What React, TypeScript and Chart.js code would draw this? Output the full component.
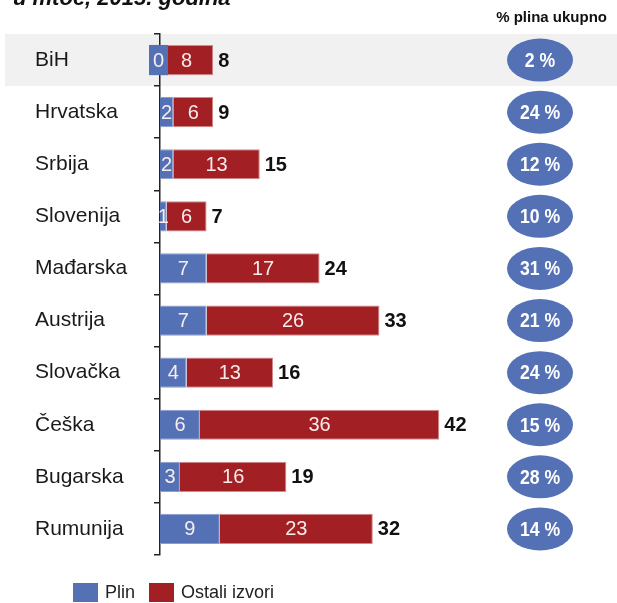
import React, { useEffect, useRef } from 'react';
import { Chart, registerables } from 'chart.js';

Chart.register(...registerables);

const categories = ['BiH', 'Hrvatska', 'Srbija', 'Slovenija', 'Mađarska', 'Austrija', 'Slovačka', 'Češka', 'Bugarska', 'Rumunija'];
const plin = [0, 2, 2, 1, 7, 7, 4, 6, 3, 9];
const ostali = [8, 6, 13, 6, 17, 26, 13, 36, 16, 23];
const totals = [8, 9, 15, 7, 24, 33, 16, 42, 19, 32];
const shareLabels = ['2 %', '24 %', '12 %', '10 %', '31 %', '21 %', '24 %', '15 %', '28 %', '14 %'];
const seriesNames = ['Plin', 'Ostali izvori'];
const titleText = 'u mtoe, 2015. godina';
const headerText = '% plina ukupno';

const BLUE = '#5571b6';
const RED = '#a21f23';
const FONT = 'Arial, "Liberation Sans", sans-serif';

const overlay = {
  id: 'overlay',
  beforeDraw(chart: any) {
    const ctx = chart.ctx;
    const y = chart.scales.y;
    const rowH = (y.bottom - y.top) / categories.length;
    const c = y.getPixelForValue(0);
    ctx.save();
    ctx.fillStyle = '#f1f1f1';
    ctx.fillRect(5, c - rowH / 2, chart.width - 5, rowH);
    ctx.restore();
  },
  afterDatasetsDraw(chart: any) {
    const ctx = chart.ctx;
    ctx.save();
    ctx.textBaseline = 'middle';
    ctx.textAlign = 'center';
    chart.data.datasets.forEach((ds: any, di: number) => {
      const meta = chart.getDatasetMeta(di);
      meta.data.forEach((el: any, i: number) => {
        const v = ds.data[i];
        const left = Math.min(el.x, el.base);
        const right = Math.max(el.x, el.base);
        let cx = (left + right) / 2;
        if (v === 0) {
          ctx.fillStyle = BLUE;
          ctx.fillRect(el.base - 11, el.y - el.height / 2, 19, el.height);
          cx = el.base - 1.5;
        }
        ctx.fillStyle = '#f6ecec';
        ctx.font = `20px ${FONT}`;
        ctx.fillText(String(v), cx, el.y + 1);
      });
    });
    const last = chart.getDatasetMeta(chart.data.datasets.length - 1);
    ctx.textAlign = 'left';
    ctx.fillStyle = '#111';
    ctx.font = `bold 20px ${FONT}`;
    last.data.forEach((el: any, i: number) => {
      ctx.fillText(String(totals[i]), el.x + 5, el.y + 1);
    });
    // share ellipses
    last.data.forEach((el: any, i: number) => {
      ctx.fillStyle = BLUE;
      ctx.beginPath();
      ctx.ellipse(540, el.y, 33, 21.5, 0, 0, Math.PI * 2);
      ctx.fill();
      ctx.save();
      ctx.translate(540, el.y + 1);
      ctx.scale(0.84, 1);
      ctx.fillStyle = '#ffffff';
      ctx.textAlign = 'center';
      ctx.font = `bold 21px ${FONT}`;
      ctx.fillText(shareLabels[i], 0, 0);
      ctx.restore();
    });
    ctx.restore();
  },
  afterDraw(chart: any) {
    const ctx = chart.ctx;
    ctx.save();
    // title (cut at top)
    ctx.fillStyle = '#111';
    ctx.textAlign = 'left';
    ctx.textBaseline = 'alphabetic';
    ctx.font = `italic bold 22px ${FONT}`;
    ctx.fillText(titleText, 13, 5);
    // header
    ctx.font = `bold 15px ${FONT}`;
    ctx.textAlign = 'right';
    ctx.textBaseline = 'middle';
    ctx.fillText(headerText, 607, 18);
    // legend
    const boxes = [73, 149];
    ctx.textAlign = 'left';
    ctx.font = `18px ${FONT}`;
    chart.data.datasets.forEach((ds: any, di: number) => {
      const bx = boxes[di];
      ctx.fillStyle = ds.backgroundColor;
      ctx.fillRect(bx, 583, 25, 19);
      ctx.fillStyle = '#222';
      ctx.fillText(seriesNames[di], bx + 32, 593);
    });
    ctx.restore();
  },
};

export default function App() {
  const ref = useRef<HTMLCanvasElement | null>(null);
  useEffect(() => {
    if (!ref.current) return;
    const chart = new Chart(ref.current, {
      type: 'bar',
      data: {
        labels: categories,
        datasets: [
          { label: seriesNames[0], data: plin, backgroundColor: BLUE, borderColor: '#8a9dd0', borderWidth: 1, barPercentage: 0.58, categoryPercentage: 1 },
          { label: seriesNames[1], data: ostali, backgroundColor: RED, borderColor: '#cf8a8c', borderWidth: 1, barPercentage: 0.58, categoryPercentage: 1 },
        ],
      },
      options: {
        indexAxis: 'y',
        animation: false,
        responsive: false,
        devicePixelRatio: 1,
        layout: { padding: { left: 35, top: 34, bottom: 48, right: 58 } },
        plugins: { legend: { display: false }, tooltip: { enabled: false } },
        scales: {
          x: { display: false, stacked: true, min: 0, max: 60 },
          y: {
            stacked: true,
            afterFit: (s: any) => { s.width = 125; },
            border: { display: true, color: '#222', width: 1.5 },
            grid: { offset: true, drawOnChartArea: false, drawTicks: true, tickLength: 6, color: '#222', lineWidth: 1.5 },
            ticks: { crossAlign: 'far', color: '#1a1a1a', font: { size: 21, family: FONT } },
          },
        },
      },
      plugins: [overlay],
    });
    return () => chart.destroy();
  }, []);
  return (
    <div style={{ position: 'absolute', left: 0, top: 0, width: 617, height: 603, background: '#fff' }}>
      <canvas ref={ref} width={617} height={603} style={{ width: 617, height: 603, display: 'block' }} />
    </div>
  );
}
